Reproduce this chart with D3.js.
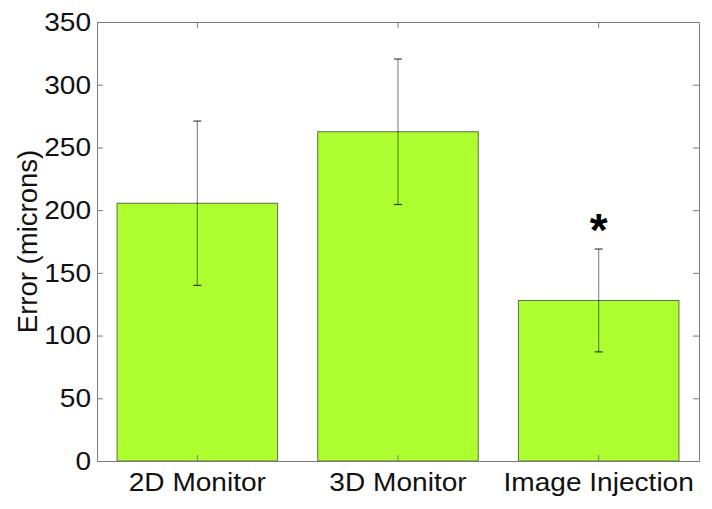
<!DOCTYPE html>
<html>
<head>
<meta charset="utf-8">
<script src="https://cdn.jsdelivr.net/npm/d3@7"></script>
<style>
  body { margin: 0; background: #fff; }
  svg { display: block; font-family: "Liberation Sans", Arial, sans-serif; }
  .axis path, .axis line { stroke: #7a7a7a; }
  .axis text { fill: #111; font-size: 26px; }
</style>
</head>
<body>
<svg id="chart"></svg>
<script>
const categories = ["2D Monitor", "3D Monitor", "Image Injection"];
const means = [205.5, 262.5, 128];
const errors = [65.5, 58, 41];
const yTicks = [0, 50, 100, 150, 200, 250, 300, 350];
const sigMarks = ["", "", "*"];
const sigValues = [null, null, 192];

const width = 712, height = 509;
const mLeft = 97, mRight = 699, mTop = 22, mBottom = 461;
const stretch = 1.08;

const svg = d3.select("#chart").attr("width", width).attr("height", height);

const x = d3.scaleBand().domain(categories).range([mLeft, mRight])
  .paddingInner(0.2).paddingOuter(0.1);
const y = d3.scaleLinear().domain([0, 350]).range([mBottom, mTop]);

const rows = categories.map((c, i) => ({ c, m: means[i], e: errors[i], s: sigMarks[i], v: sigValues[i] }));

// bars
svg.append("g").selectAll("rect")
  .data(rows)
  .enter().append("rect")
  .attr("x", d => x(d.c))
  .attr("y", d => y(d.m))
  .attr("width", x.bandwidth())
  .attr("height", d => y(0) - y(d.m))
  .attr("fill", "#adff2f")
  .attr("stroke", "#5f6b4a")
  .attr("stroke-width", 1);

// error bars
const eb = svg.append("g").attr("stroke", "#000").attr("stroke-opacity", 0.45).attr("stroke-width", 1.2);
rows.forEach(d => {
  const cx = x(d.c) + x.bandwidth() / 2;
  eb.append("line").attr("x1", cx).attr("x2", cx).attr("y1", y(d.m - d.e)).attr("y2", y(d.m + d.e));
  [d.m - d.e, d.m + d.e].forEach(v => {
    eb.append("line").attr("x1", cx - 4).attr("x2", cx + 4).attr("y1", y(v)).attr("y2", y(v))
      .attr("stroke-opacity", 0.75);
  });
});

// significance marker
svg.append("g").selectAll("text")
  .data(rows.filter(d => d.s))
  .enter().append("text")
  .attr("x", d => x(d.c) + x.bandwidth() / 2)
  .attr("y", d => y(d.v))
  .attr("dy", "0.56em")
  .attr("text-anchor", "middle")
  .attr("font-size", 46)
  .attr("font-weight", "bold")
  .attr("fill", "#000")
  .text(d => d.s);

// axes (box with inward ticks)
const gl = svg.append("g").attr("class", "axis")
  .attr("transform", `translate(${mLeft},0)`)
  .call(d3.axisLeft(y).tickValues(yTicks).tickSizeInner(-6).tickSizeOuter(0).tickPadding(6));
gl.selectAll("text").attr("x", null).attr("transform", `translate(-6,0) scale(${stretch},1)`);

svg.append("g").attr("class", "axis")
  .attr("transform", `translate(${mRight},0)`)
  .call(d3.axisRight(y).tickValues(yTicks).tickSizeInner(-6).tickSizeOuter(0).tickFormat(""));

const gb = svg.append("g").attr("class", "axis")
  .attr("transform", `translate(0,${mBottom})`)
  .call(d3.axisBottom(x).tickSizeInner(-6).tickSizeOuter(0).tickPadding(12));
gb.selectAll("text").attr("y", null).attr("transform", `translate(0,12) scale(${stretch},1)`);

svg.append("g").attr("class", "axis")
  .attr("transform", `translate(0,${mTop})`)
  .call(d3.axisTop(x).tickSizeInner(-6).tickSizeOuter(0).tickFormat(""));

svg.selectAll(".axis path.domain").attr("stroke", "#7a7a7a");

// y label
svg.append("text")
  .attr("transform", `translate(37,${(mTop + mBottom) / 2}) rotate(-90)`)
  .attr("text-anchor", "middle")
  .attr("font-size", 27.5)
  .attr("fill", "#111")
  .text("Error (microns)");
</script>
</body>
</html>
